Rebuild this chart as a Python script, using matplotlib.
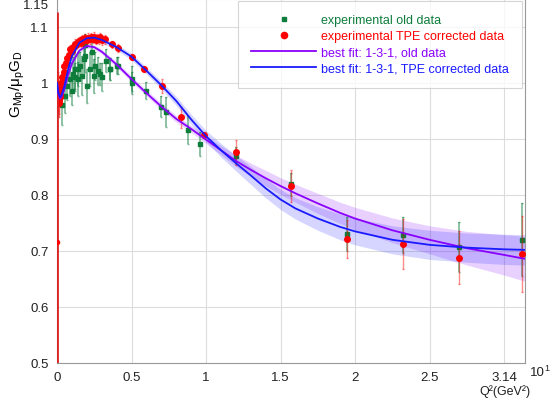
import matplotlib
matplotlib.use("Agg")
import matplotlib.pyplot as plt
from matplotlib.lines import Line2D
import numpy as np

plt.rcParams['font.family'] = ['Liberation Sans', 'DejaVu Sans']

# ---- data: old (green) ----
old_q = [0.01, 0.032, 0.054, 0.066, 0.088, 0.10, 0.11, 0.12, 0.12, 0.142, 0.144, 0.155, 0.166,
         0.178, 0.19, 0.19, 0.20, 0.222, 0.233, 0.245, 0.254, 0.278, 0.287, 0.30, 0.33, 0.354,
         0.357, 0.40, 0.41, 0.50, 0.50, 0.60, 0.70, 0.73, 0.88, 0.96, 1.198, 1.571, 1.943,
         2.32, 2.70, 3.12]
old_g = [0.971, 0.960, 0.977, 0.995, 1.007, 0.986, 1.016, 1.025, 1.010, 1.025, 1.007, 1.031, 1.013,
         1.043, 1.049, 1.067, 0.995, 1.025, 1.055, 1.013, 1.031, 1.022, 1.016, 1.010, 1.040, 1.025,
         1.025, 1.031, 1.031, 1.008, 1.000, 0.986, 0.958, 0.948, 0.916, 0.891, 0.870, 0.819, 0.730,
         0.729, 0.707, 0.720]
old_e = [0.030, 0.035, 0.030, 0.025, 0.030, 0.025, 0.030, 0.035, 0.025, 0.030, 0.030, 0.025, 0.035,
         0.025, 0.030, 0.020, 0.030, 0.030, 0.025, 0.030, 0.025, 0.025, 0.020, 0.025, 0.020, 0.020,
         0.020, 0.015, 0.015, 0.022, 0.020, 0.015, 0.018, 0.027, 0.025, 0.021, 0.015, 0.020, 0.030,
         0.032, 0.044, 0.065]

# ---- data: TPE corrected (red) ----
tpe_q = [0.005, 0.008, 0.010, 0.012, 0.015, 0.018, 0.020, 0.025, 0.030, 0.035, 0.040, 0.045,
         0.050, 0.060, 0.070, 0.080, 0.090, 0.100, 0.110, 0.120, 0.130, 0.140, 0.150, 0.160,
         0.170, 0.180, 0.190, 0.200, 0.210, 0.220, 0.230, 0.240, 0.250, 0.260, 0.270, 0.280,
         0.290, 0.300, 0.320, 0.366, 0.41, 0.50, 0.583, 0.705, 0.829, 0.985, 1.198, 1.571,
         1.943, 2.32, 2.70, 3.12]
tpe_g = [0.990, 0.975, 0.985, 0.970, 0.965, 0.975, 0.980, 0.990, 1.000, 1.010, 1.005, 1.020,
         1.030, 1.035, 1.045, 1.050, 1.060, 1.058, 1.065, 1.070, 1.068, 1.073, 1.075, 1.072,
         1.078, 1.077, 1.080, 1.076, 1.081, 1.078, 1.082, 1.079, 1.083, 1.077, 1.080, 1.078,
         1.082, 1.076, 1.078, 1.069, 1.0625, 1.046, 1.025, 0.995, 0.939, 0.907, 0.876, 0.816,
         0.721, 0.7125, 0.688, 0.695]
tpe_e = [0.030, 0.025, 0.020, 0.030, 0.020, 0.015, 0.015, 0.012, 0.012, 0.010, 0.010, 0.010,
         0.010, 0.008, 0.008, 0.008, 0.008, 0.008, 0.008, 0.008, 0.008, 0.008, 0.008, 0.008,
         0.008, 0.008, 0.008, 0.008, 0.008, 0.008, 0.008, 0.008, 0.008, 0.008, 0.008, 0.008,
         0.008, 0.008, 0.008, 0.006, 0.008, 0.005, 0.006, 0.013, 0.019, 0.006, 0.023, 0.029,
         0.034, 0.044, 0.047, 0.068]

# odd point at Q2 ~ 0 with huge error bar
tpe0_q = [0.0]
tpe0_g = [0.716]
tpe0_e = [0.41]

# ---- fits ----
fit_q = [0.0, 0.01, 0.02, 0.03, 0.05, 0.075, 0.1, 0.15, 0.2, 0.25, 0.3, 0.4, 0.5, 0.6, 0.7,
         0.8, 0.9, 1.0, 1.1, 1.2, 1.3, 1.4, 1.5, 1.6, 1.75, 1.9, 2.0, 2.25, 2.5, 2.75, 3.0, 3.14]
fit_old = [1.000, 0.980, 0.972, 0.975, 0.990, 1.015, 1.035, 1.058, 1.066, 1.064, 1.056, 1.033,
           1.007, 0.982, 0.958, 0.936, 0.918, 0.899, 0.880, 0.861, 0.845, 0.830, 0.816, 0.803,
           0.785, 0.768, 0.758, 0.737, 0.720, 0.705, 0.693, 0.686]
band_old = [0.004, 0.004, 0.004, 0.004, 0.004, 0.004, 0.004, 0.004, 0.004, 0.004, 0.004, 0.005,
            0.005, 0.005, 0.006, 0.006, 0.006, 0.007, 0.008, 0.010, 0.012, 0.014, 0.015, 0.016,
            0.018, 0.019, 0.020, 0.022, 0.025, 0.030, 0.036, 0.040]
fit_tpe = [1.000, 0.982, 0.975, 0.978, 0.995, 1.025, 1.048, 1.072, 1.080, 1.081, 1.077, 1.064,
           1.047, 1.022, 0.996, 0.968, 0.935, 0.905, 0.880, 0.857, 0.835, 0.812, 0.792, 0.776,
           0.758, 0.743, 0.735, 0.720, 0.711, 0.706, 0.703, 0.702]
band_tpe = [0.004, 0.004, 0.004, 0.004, 0.004, 0.004, 0.004, 0.004, 0.004, 0.004, 0.005, 0.005,
            0.006, 0.006, 0.007, 0.008, 0.009, 0.010, 0.012, 0.014, 0.016, 0.017, 0.018, 0.019,
            0.021, 0.023, 0.024, 0.025, 0.026, 0.026, 0.027, 0.027]

xticks = [0, 0.5, 1, 1.5, 2, 2.5, 3.0]
xticklabels = ['0', '0.5', '1', '1.5', '2', '2.5', '3.14']
yticks = [0.5, 0.6, 0.7, 0.8, 0.9, 1.0, 1.1, 1.15]
yticklabels = ['0.5', '0.6', '0.7', '0.8', '0.9', '1', '1.1', '1.15']

GREEN = '#0e7d3c'
RED = '#ff0000'
PURPLE = '#8a00ff'
BLUE = '#1a1aff'

fig = plt.figure(figsize=(5.51, 4.02), dpi=100)
ax = fig.add_axes([57/551, 38/402, (525-57)/551, 364/402])

fq = np.array(fit_q)
ax.fill_between(fq, np.array(fit_old) - np.array(band_old), np.array(fit_old) + np.array(band_old),
                color=PURPLE, alpha=0.18, lw=0, zorder=2)
ax.fill_between(fq, np.array(fit_tpe) - np.array(band_tpe), np.array(fit_tpe) + np.array(band_tpe),
                color=BLUE, alpha=0.18, lw=0, zorder=2)

ax.errorbar(old_q, old_g, yerr=old_e, fmt='none', ecolor=GREEN, alpha=0.55, elinewidth=1.2,
            capsize=1, zorder=3)
ax.plot(old_q, old_g, 's', color=GREEN, ms=3, mec=GREEN, zorder=4)
ax.errorbar(tpe_q, tpe_g, yerr=tpe_e, fmt='none', ecolor=RED, alpha=0.45, elinewidth=1.0,
            capsize=1, zorder=5)
ax.plot(tpe_q, tpe_g, 'o', color=RED, ms=4, mec=RED, zorder=6)
ax.errorbar(tpe0_q, tpe0_g, yerr=tpe0_e, fmt='o', color=RED, ecolor='#dd2222', elinewidth=2,
            ms=3, zorder=6)

ax.plot(fit_q, fit_old, color=PURPLE, lw=1.3, zorder=7)
ax.plot(fit_q, fit_tpe, color=BLUE, lw=1.3, zorder=7)

ax.set_xlim(0, 3.14)
ax.set_ylim(0.5, 1.15)
ax.set_xticks(xticks)
ax.set_xticklabels(xticklabels)
ax.set_yticks(yticks)
ax.set_yticklabels(yticklabels)
ax.tick_params(length=0, labelsize=9.5, pad=6, colors='#222222')
ax.get_yticklabels()[-1].set_va('top')
ax.grid(True, color='#dcdcdc', lw=0.8)
ax.set_axisbelow(True)
for s in ['left', 'bottom', 'right']:
    ax.spines[s].set_color('#999999')
ax.spines['top'].set_visible(False)

handles = [
    Line2D([], [], ls='none', marker='s', color=GREEN, ms=3.5),
    Line2D([], [], ls='none', marker='o', color=RED, ms=4.5),
    Line2D([], [], color=PURPLE, lw=1.3),
    Line2D([], [], color=BLUE, lw=1.3),
]
labels = ['experimental old data', 'experimental TPE corrected data',
          'best fit: 1-3-1, old data', 'best fit: 1-3-1, TPE corrected data']
leg = ax.legend(handles, labels, loc='upper right', bbox_to_anchor=(522/551, 1 - 2/402),
                bbox_transform=fig.transFigure, fontsize=9, handlelength=5.2, handletextpad=0.4,
                borderpad=1.05, labelspacing=0.33, frameon=True, fancybox=False,
                edgecolor='#cccccc', borderaxespad=0)
leg.get_frame().set_linewidth(0.8)
leg.set_zorder(10)
for t, c in zip(leg.get_texts(), [GREEN, RED, PURPLE, BLUE]):
    t.set_color(c)

fig.text(17/551, 1 - 84/402, r'$\mathregular{G_{Mp}/\mu_pG_D}$', rotation=90,
         ha='center', va='center', fontsize=11)
fig.text(530/551, 1 - 373/402, '10', ha='left', va='center', fontsize=9.5, color='#222222')
fig.text(544/551, 1 - 369/402, '1', ha='left', va='center', fontsize=6.5, color='#222222')
fig.text(530/551, 1 - 392/402, 'Q²(GeV²)', ha='right', va='center', fontsize=9, color='#222222')

fig.savefig('out.png', dpi=100)
